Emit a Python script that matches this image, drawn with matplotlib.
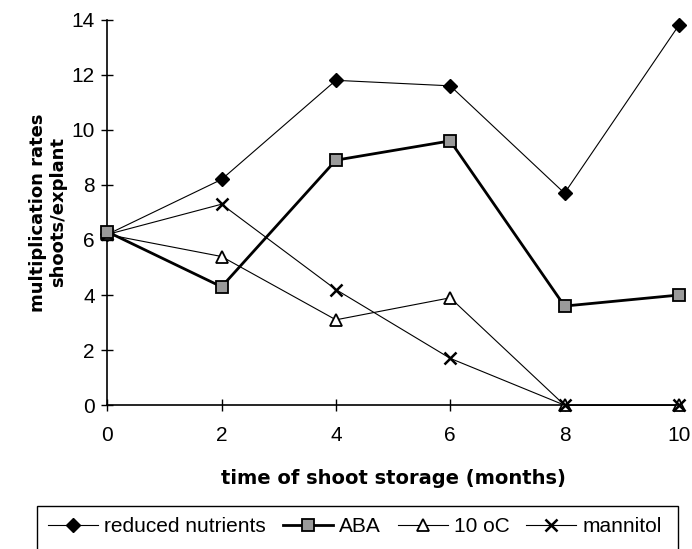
import matplotlib.pyplot as plt
from matplotlib.patches import Rectangle

plt.rcParams['font.family'] = ['Liberation Sans', 'DejaVu Sans']

months = [0, 2, 4, 6, 8, 10]
reduced_nutrients = [6.2, 8.2, 11.8, 11.6, 7.7, 13.8]
aba = [6.3, 4.3, 8.9, 9.6, 3.6, 4.0]
cold_10c = [6.2, 5.4, 3.1, 3.9, 0.0, 0.0]
mannitol = [6.2, 7.3, 4.2, 1.7, 0.0, 0.0]

fig = plt.figure(figsize=(6.92, 5.49), dpi=100)
ax = fig.add_axes([0.155, 0.262, 0.826, 0.702])

ax.plot(months, reduced_nutrients, color='black', lw=0.8, marker='D', ms=7.5,
        mfc='black', mec='black', label='reduced nutrients', clip_on=False, zorder=3)
ax.plot(months, aba, color='black', lw=2.0, marker='s', ms=8,
        mfc='#9a9a9a', mec='black', mew=1.3, label='ABA', clip_on=False, zorder=4)
ax.plot(months, cold_10c, color='black', lw=0.8, marker='^', ms=8,
        mfc='white', mec='black', mew=1.3, label='10 oC', clip_on=False, zorder=3)
ax.plot(months, mannitol, color='black', lw=0.8, marker='x', ms=9,
        mec='black', mew=1.8, label='mannitol', clip_on=False, zorder=3)

ax.set_xlim(0, 10)
ax.set_ylim(0, 14)
ax.set_xticks(months)
ax.set_yticks(range(0, 15, 2))
ax.spines['top'].set_visible(False)
ax.spines['right'].set_visible(False)
ax.spines['left'].set_linewidth(1.2)
ax.spines['bottom'].set_linewidth(1.2)
ax.tick_params(direction='inout', length=8, width=1, labelsize=15, pad=5)
ax.tick_params(axis='x', pad=11)

bold = dict(fontweight='bold', family=['DejaVu Sans'])
ax.set_xlabel('time of shoot storage (months)', fontsize=14, labelpad=17, **bold)
ax.set_ylabel('multiplication rates\nshoots/explant', fontsize=13,
              labelpad=3, linespacing=1.15, **bold)

# legend box runs off the bottom of the picture
fig.patches.append(Rectangle((37 / 692, -0.05), 641 / 692, 0.05 + 1 - 506 / 549,
                             transform=fig.transFigure, fill=False, ec='black', lw=1))
fig.legend(loc='center', bbox_to_anchor=(0.513, 1 - 527 / 549), ncol=4, frameon=False,
           fontsize=15, handlelength=2.4, columnspacing=0.8, handletextpad=0.3,
           borderaxespad=0, borderpad=0)

fig.savefig('out.png', dpi=100)
